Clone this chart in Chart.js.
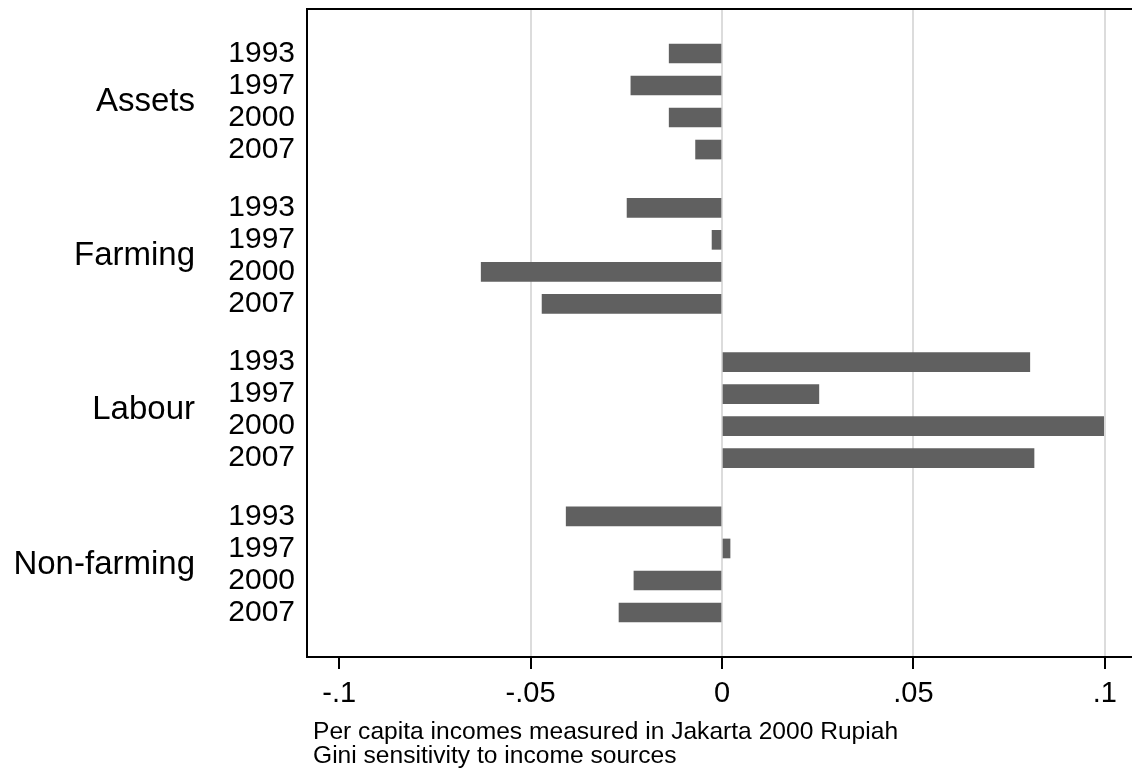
<!DOCTYPE html>
<html>
<head>
<meta charset="utf-8">
<script src="https://cdn.jsdelivr.net/npm/chart.js@4.4.1/dist/chart.umd.min.js"></script>
<style>
  html, body { margin: 0; padding: 0; background: #fff; overflow: hidden; }
  #wrap { width: 1140px; height: 769px; }
</style>
</head>
<body>
<div id="wrap"><canvas id="chart"></canvas></div>
<script>
// --- data ---
const groups = ['Assets', 'Farming', 'Labour', 'Non-farming'];
const years = ['1993', '1997', '2000', '2007'];
const assets = [-0.0138, -0.0238, -0.0138, -0.0069];
const farming = [-0.0248, -0.0026, -0.0629, -0.0470];
const labour = [0.0804, 0.0253, 0.0997, 0.0815];
const nonFarming = [-0.0407, 0.0021, -0.0230, -0.0269];
const xTicks = [-0.1, -0.05, 0, 0.05, 0.1];
const footNotes = ['Per capita incomes measured in Jakarta 2000 Rupiah', 'Gini sensitivity to income sources'];

// rows: 4 years per group, extra gap between groups
const GROUP_STEP = 4.82;
const seriesByGroup = [assets, farming, labour, nonFarming];
const rowPos = (g, i) => g * GROUP_STEP + i;

const points = [];
const rowLabels = {};
seriesByGroup.forEach((vals, g) => {
  vals.forEach((v, i) => {
    points.push({ x: v, y: rowPos(g, i) });
    rowLabels[rowPos(g, i).toFixed(2)] = years[i];
  });
});

const FONT = '"Liberation Sans", Arial, Helvetica, sans-serif';

const fmtTick = v => v === 0 ? '0' : (v < 0 ? '-' : '') + String(Math.abs(v)).replace(/^0/, '');

// frame, group names and notes
const extras = {
  id: 'extras',
  afterDraw(chart) {
    const { ctx, chartArea: a } = chart;
    const y = chart.scales.y;
    ctx.save();
    ctx.strokeStyle = '#000';
    ctx.lineWidth = 2;
    ctx.strokeRect(a.left, a.top, a.right - a.left, a.bottom - a.top);

    ctx.fillStyle = '#000';
    ctx.font = '33px ' + FONT;
    ctx.textAlign = 'right';
    ctx.textBaseline = 'middle';
    groups.forEach((name, g) => {
      ctx.fillText(name, 195, y.getPixelForValue(rowPos(g, 1.5)));
    });

    ctx.font = '24.6px ' + FONT;
    ctx.textAlign = 'left';
    ctx.textBaseline = 'alphabetic';
    ctx.fillText(footNotes[0], 313, 739);
    ctx.fillText(footNotes[1], 313, 763);
    ctx.restore();
  }
};

new Chart(document.getElementById('chart'), {
  type: 'bar',
  data: {
    datasets: [{
      data: points,
      backgroundColor: '#606060',
      borderWidth: 0,
      barThickness: 19
    }]
  },
  options: {
    indexAxis: 'y',
    responsive: true,
    maintainAspectRatio: false,
    animation: false,
    layout: { padding: { top: 9, right: 3, left: 0, bottom: 0 } },
    plugins: { legend: { display: false }, tooltip: { enabled: false } },
    scales: {
      x: {
        type: 'linear',
        min: -0.1084,
        max: 0.1084,
        afterBuildTicks: s => { s.ticks = xTicks.map(v => ({ value: v })); },
        afterFit: s => { s.height = 112; s.paddingLeft = 0; s.paddingRight = 0; },
        grid: {
          color: c => (c.tick && c.tick.value === -0.1) ? 'rgba(0,0,0,0)' : '#dcdcdc',
          lineWidth: 2,
          tickColor: '#000',
          tickWidth: 2,
          tickLength: 12
        },
        border: { display: true, color: '#000', width: 2 },
        ticks: {
          color: '#000',
          font: { family: FONT, size: 29 },
          padding: 8,
          callback: v => fmtTick(v)
        }
      },
      y: {
        type: 'linear',
        reverse: true,
        offset: false,
        min: -1.39,
        max: 3 * GROUP_STEP + 3 + 1.39,
        afterBuildTicks: s => {
          s.ticks = Object.keys(rowLabels).map(k => ({ value: parseFloat(k) }));
        },
        afterFit: s => { s.width = 307; s.paddingTop = 0; s.paddingBottom = 0; },
        grid: { display: false, drawTicks: false, offset: false },
        border: { display: true, color: '#000', width: 2 },
        ticks: {
          color: '#000',
          font: { family: FONT, size: 30 },
          padding: 12,
          autoSkip: false,
          callback: v => rowLabels[v.toFixed(2)] || ''
        }
      }
    }
  },
  plugins: [extras]
});
</script>
</body>
</html>
